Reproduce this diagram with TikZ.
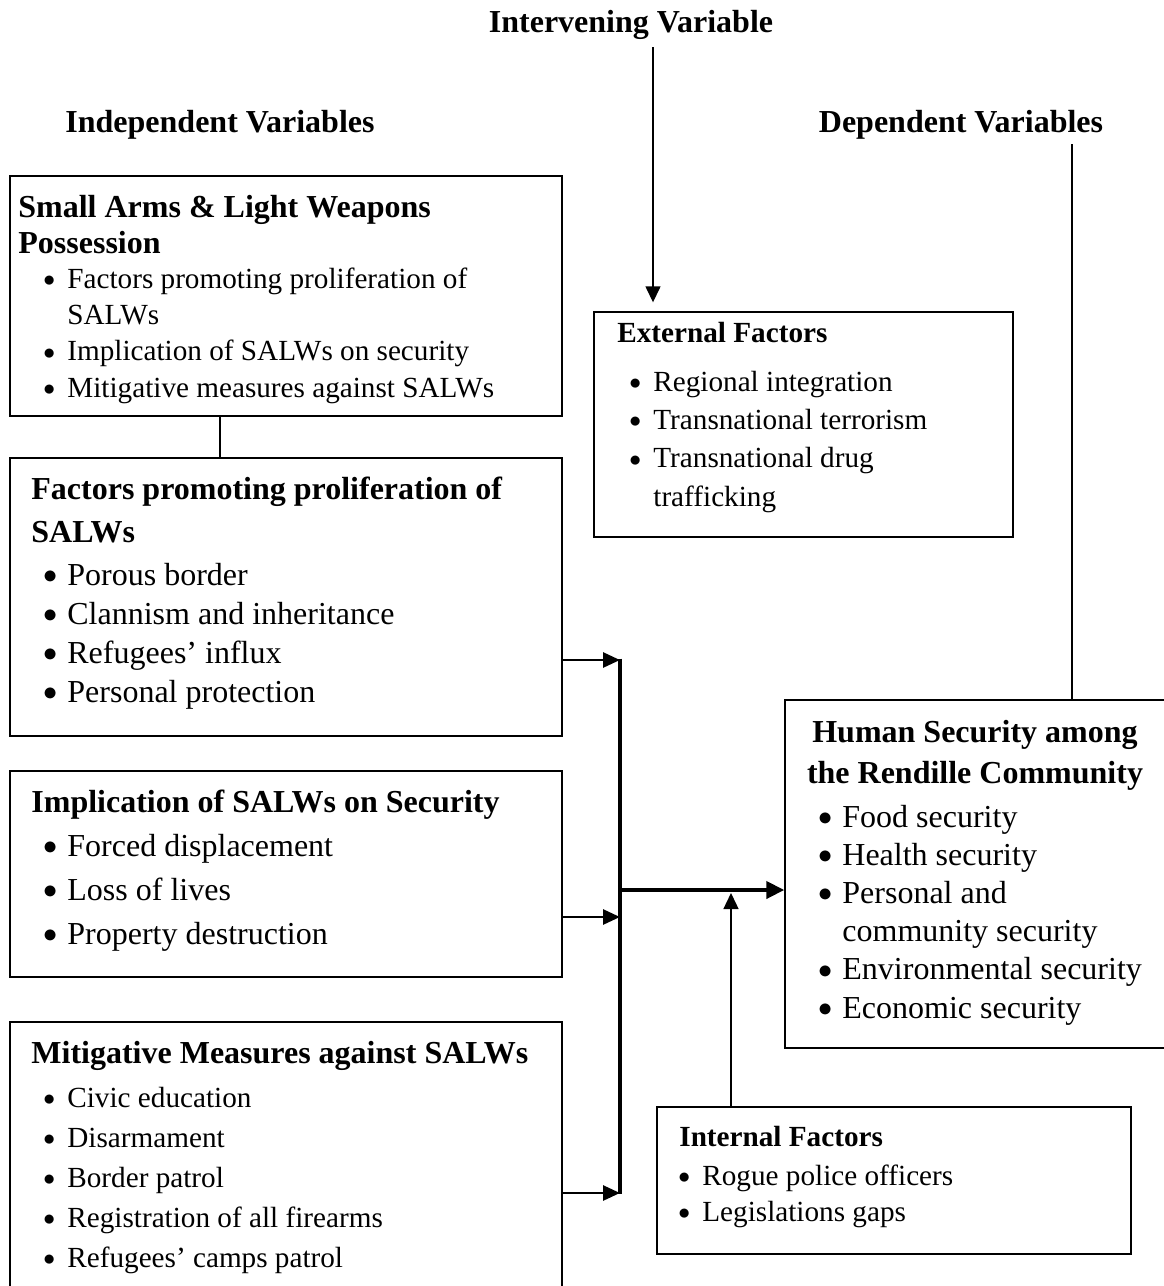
\documentclass[tikz,border=0pt]{standalone}
\usepackage{fontspec}
\setmainfont{Liberation Serif}
\usetikzlibrary{arrows.meta,fit}

\newcommand{\bul}{\makebox[12pt][l]{\raisebox{0.9pt}{\scalebox{0.82}{$\bullet$}}}}
\newcommand{\ind}{\hspace*{12pt}}
\newcommand{\bigtext}[1]{\fontsize{16}{#1}\selectfont}
\newcommand{\smalltext}[1]{\fontsize{14.6}{#1}\selectfont}

\tikzset{
  box/.style={draw, line width=0.7pt, inner sep=0pt},
  heading/.style={anchor=base west, align=flush left, inner sep=0pt, text width=270pt},
  items/.style={anchor=base west, align=flush left, inner sep=0pt, text width=270pt},
  vartitle/.style={anchor=base, inner sep=0pt, font=\bfseries\bigtext{19}},
  link/.style={line width=0.7pt},
  thinarrow/.style={line width=0.7pt, -{Triangle[length=8pt,width=7.5pt]}},
  flow/.style={line width=1.4pt, -{Triangle[length=8.5pt,width=7.5pt]}},
  mainflow/.style={line width=2pt, -{Triangle[length=9pt,width=8.5pt]}}
}

\begin{document}
\begin{tikzpicture}[x=0.5pt, y=-0.5pt]
\useasboundingbox (0,0) rectangle (1163,1286);
\fill[white] (0,0) rectangle (1163,1286);

% variable titles
\node[vartitle] (interv) at (631,32) {Intervening Variable};
\node[vartitle] (indep) at (220,132) {Independent Variables};
\node[vartitle] (dep) at (961,132) {Dependent Variables};

% boxes
\node[box, fit={(10,176)(562,416)}] (salw) {};
\node[box, fit={(10,458)(562,736)}] (factors) {};
\node[box, fit={(10,771)(562,977)}] (implic) {};
\node[box, fit={(10,1022)(562,1310)}] (mitig) {};
\node[box, fit={(594,312)(1013,537)}] (external) {};
\node[box, fit={(785,700)(1180,1048)}] (human) {};
\node[box, fit={(657,1107)(1131,1254)}] (internal) {};

% independent variables
\node[heading, font=\bfseries\bigtext{18}] (salwhead) at (18,217)
  {Small Arms \& Light Weapons\\Possession};
\node[items, font=\smalltext{18.2}] (salwitems) at (43,288)
  {\bul Factors promoting proliferation of\\ \ind SALWs\\ \bul Implication of SALWs on security\\ \bul Mitigative measures against SALWs};

\node[heading, font=\bfseries\bigtext{21.5}] (factorshead) at (31,499)
  {Factors promoting proliferation of\\SALWs};
\node[items, font=\bigtext{19.5}] (factorsitems) at (43,585)
  {\bul Porous border\\ \bul Clannism and inheritance\\ \bul Refugees’ influx\\ \bul Personal protection};

\node[heading, font=\bfseries\bigtext{19}] (implichead) at (31,812)
  {Implication of SALWs on Security};
\node[items, font=\bigtext{22}] (implicitems) at (43,856)
  {\bul Forced displacement\\ \bul Loss of lives\\ \bul Property destruction};

\node[heading, font=\bfseries\bigtext{19}] (mitighead) at (31,1063)
  {Mitigative Measures against SALWs};
\node[items, font=\smalltext{20}] (mitigitems) at (43,1107)
  {\bul Civic education\\ \bul Disarmament\\ \bul Border patrol\\ \bul Registration of all firearms\\ \bul Refugees’ camps patrol};

% intervening variables
\node[heading, font=\bfseries\smalltext{19}] (externalhead) at (617,342)
  {External Factors};
\node[items, font=\smalltext{19.2}] (externalitems) at (629,391)
  {\bul Regional integration\\ \bul Transnational terrorism\\ \bul Transnational drug\\ \ind trafficking};

\node[heading, font=\bfseries\smalltext{19}] (internalhead) at (679,1146)
  {Internal Factors};
\node[items, font=\smalltext{18}] (internalitems) at (678,1185)
  {\bul Rogue police officers\\ \bul Legislations gaps};

% dependent variable
\node[anchor=base, align=flush center, inner sep=0pt, text width=185pt, font=\bfseries\bigtext{20.5}] (humanhead) at (975,742)
  {Human Security among\\the Rendille Community};
\node[items, font=\bigtext{19.1}] (humanitems) at (818,827)
  {\bul Food security\\ \bul Health security\\ \bul Personal and\\ \ind community security\\ \bul Environmental security\\ \bul Economic security};

% connectors
\coordinate (s1) at (220,416);
\draw[link] (s1) -- (s1 |- factors.north);

\coordinate (jtop) at (620,660);
\coordinate (jmid) at (620,890);
\coordinate (jlow) at (620,917);
\coordinate (jbot) at (620,1193);
\draw[flow] (factors.east |- jtop) -- (jtop);
\draw[flow] (implic.east |- jlow) -- (jlow);
\draw[flow] (mitig.east |- jbot) -- (jbot);
\draw[line width=1.6pt] ([yshift=0.7pt]jtop) -- ([yshift=-0.7pt]jbot);
\draw[mainflow] (jmid) -- (jmid -| human.west);

\coordinate (up) at (731,893);
\draw[thinarrow] (up |- internal.north) -- (up);

\coordinate (iv) at (653,47);
\draw[thinarrow, shorten >=4.5pt] (iv) -- (iv |- external.north);

\coordinate (dv) at (1072,144);
\draw[link] (dv) -- (dv |- human.north);
\end{tikzpicture}
\end{document}
